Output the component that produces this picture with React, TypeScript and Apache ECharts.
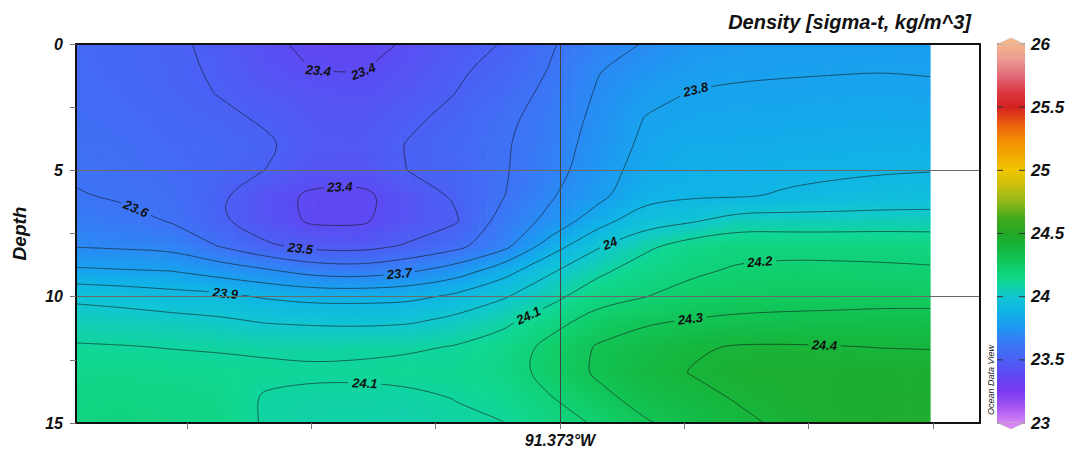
import React, { useEffect, useRef } from "react";
import * as echarts from "echarts";

const FONT = "'Liberation Sans', Arial, Helvetica, sans-serif";

// ---------------- data ----------------
const lonMin = -91.376894;
const lonMax = -91.369621;
const lonNodes = [
  -91.376894, -91.376512, -91.376131, -91.375749, -91.375367, -91.374986, -91.374604,
  -91.374222, -91.373841, -91.373459, -91.373077, -91.372696, -91.372314, -91.371932,
  -91.371551, -91.371169, -91.370787, -91.370406, -91.370024,
];
const depthNodes = [0, 1, 2, 3, 4, 5, 6, 7, 8, 9, 10, 11, 12, 13, 14, 15];
// one density profile (sigma-t) per longitude node, depth 0..15 m
const profiles = [
  [23.55, 23.555, 23.56, 23.57, 23.58, 23.59, 23.605, 23.65, 23.695, 23.82, 23.98, 24.05, 24.11, 24.14, 24.16, 24.17],
  [23.535, 23.54, 23.548, 23.558, 23.568, 23.578, 23.59, 23.625, 23.685, 23.81, 23.965, 24.045, 24.105, 24.145, 24.165, 24.175],
  [23.515, 23.517, 23.523, 23.535, 23.548, 23.56, 23.575, 23.595, 23.675, 23.802, 23.94, 24.035, 24.097, 24.135, 24.155, 24.165],
  [23.482, 23.49, 23.498, 23.522, 23.535, 23.53, 23.512, 23.512, 23.598, 23.76, 23.93, 24.02, 24.093, 24.125, 24.145, 24.155],
  [23.42, 23.435, 23.465, 23.49, 23.515, 23.499, 23.43, 23.44, 23.515, 23.72, 23.89, 23.995, 24.085, 24.12, 24.09, 24.09],
  [23.378, 23.398, 23.44, 23.455, 23.465, 23.44, 23.383, 23.385, 23.47, 23.665, 23.87, 23.985, 24.085, 24.11, 24.085, 24.08],
  [23.37, 23.395, 23.43, 23.45, 23.46, 23.44, 23.375, 23.385, 23.465, 23.65, 23.87, 23.98, 24.09, 24.11, 24.085, 24.08],
  [23.41, 23.435, 23.46, 23.485, 23.505, 23.502, 23.44, 23.445, 23.51, 23.69, 23.875, 23.99, 24.09, 24.125, 24.08, 24.075],
  [23.475, 23.488, 23.501, 23.525, 23.54, 23.53, 23.512, 23.488, 23.57, 23.75, 23.92, 24.03, 24.105, 24.12, 24.102, 24.09],
  [23.503, 23.525, 23.555, 23.58, 23.59, 23.59, 23.595, 23.635, 23.665, 23.86, 23.99, 24.08, 24.14, 24.15, 24.125, 24.098],
  [23.59, 23.605, 23.625, 23.64, 23.65, 23.66, 23.69, 23.725, 23.85, 23.99, 24.07, 24.16, 24.235, 24.245, 24.195, 24.165],
  [23.665, 23.695, 23.71, 23.725, 23.74, 23.755, 23.77, 23.86, 23.99, 24.08, 24.16, 24.25, 24.31, 24.315, 24.27, 24.21],
  [23.705, 23.74, 23.78, 23.805, 23.82, 23.84, 23.87, 23.96, 24.08, 24.15, 24.198, 24.29, 24.35, 24.37, 24.34, 24.29],
  [23.755, 23.78, 23.805, 23.825, 23.845, 23.865, 23.89, 23.99, 24.15, 24.185, 24.24, 24.31, 24.39, 24.405, 24.37, 24.34],
  [23.77, 23.79, 23.81, 23.83, 23.845, 23.86, 23.89, 24.05, 24.17, 24.215, 24.26, 24.32, 24.41, 24.44, 24.41, 24.38],
  [23.775, 23.793, 23.813, 23.833, 23.853, 23.88, 23.91, 24.045, 24.17, 24.225, 24.265, 24.325, 24.41, 24.445, 24.44, 24.42],
  [23.78, 23.795, 23.817, 23.837, 23.857, 23.885, 23.925, 24.045, 24.17, 24.222, 24.265, 24.33, 24.405, 24.45, 24.455, 24.45],
  [23.785, 23.797, 23.822, 23.842, 23.862, 23.893, 23.935, 24.05, 24.17, 24.217, 24.268, 24.337, 24.398, 24.45, 24.46, 24.46],
  [23.787, 23.795, 23.812, 23.84, 23.865, 23.897, 23.94, 24.05, 24.165, 24.212, 24.265, 24.34, 24.395, 24.45, 24.46, 24.46],
];
const contourLevels = [23.4, 23.5, 23.6, 23.7, 23.8, 23.9, 24.0, 24.1, 24.2, 24.3, 24.4];
const xTickValues = [-91.376, -91.375, -91.374, -91.373, -91.372, -91.371, -91.37];
const xLabelValues = [-91.373];
const colorMin = 23;
const colorMax = 26;
const colorbarTicks = [23, 23.5, 24, 24.5, 25, 25.5, 26];
// ODV-like palette, evenly spaced from 23 to 26
const colorScale = [
  "#d884f4", "#a356f2", "#7a3af0", "#6046f2", "#4a60f4", "#3a78f6", "#1f96f2", "#10b2e8",
  "#10c6d2", "#10d890", "#10cc64", "#14b840", "#22a826", "#44aa1e", "#92b818", "#c8c00e",
  "#f0c600", "#f2a800", "#f28a04", "#ea5a10", "#d42020", "#dc3a44", "#e26a78", "#ec9a92",
  "#f6b48a",
];
const contourLabels = [
  { level: 23.4, text: "23.4", lon: -91.374947, depth: 1.1 },
  { level: 23.4, text: "23.4", lon: -91.374585, depth: 1.1 },
  { level: 23.8, text: "23.8", lon: -91.371914, depth: 1.7 },
  { level: 23.4, text: "23.4", lon: -91.37477, depth: 5.86 },
  { level: 23.6, text: "23.6", lon: -91.376419, depth: 6.57 },
  { level: 23.5, text: "23.5", lon: -91.375092, depth: 8.23 },
  { level: 24.0, text: "24", lon: -91.372598, depth: 7.87 },
  { level: 24.2, text: "24.2", lon: -91.371391, depth: 8.59 },
  { level: 23.7, text: "23.7", lon: -91.374287, depth: 9.14 },
  { level: 23.9, text: "23.9", lon: -91.375695, depth: 9.93 },
  { level: 24.1, text: "24.1", lon: -91.373266, depth: 10.64 },
  { level: 24.3, text: "24.3", lon: -91.371954, depth: 10.84 },
  { level: 24.4, text: "24.4", lon: -91.370868, depth: 11.79 },
  { level: 24.1, text: "24.1", lon: -91.374569, depth: 13.41 },
];

// ---------------- helpers ----------------
function hexToRgb(h: string) {
  const n = parseInt(h.slice(1), 16);
  return [(n >> 16) & 255, (n >> 8) & 255, n & 255];
}
const scaleRgb = colorScale.map(hexToRgb);
const colorStep = (colorMax - colorMin) / (colorScale.length - 1);
function colorAt(v: number) {
  const t = Math.max(0, Math.min(1, (v - colorMin) / (colorMax - colorMin))) * (scaleRgb.length - 1);
  const i = Math.min(scaleRgb.length - 2, Math.floor(t));
  const f = t - i;
  const a = scaleRgb[i], b = scaleRgb[i + 1];
  const c = [0, 1, 2].map((k) => Math.round(a[k] + (b[k] - a[k]) * f));
  return `rgb(${c[0]},${c[1]},${c[2]})`;
}

type Pt = [number, number];
type Line = { level: number; pts: Pt[]; closed: boolean };

function buildContours(): Line[] {
  const nx = lonNodes.length, ny = depthNodes.length;
  const V = (i: number, j: number) => profiles[i][j];
  const out: Line[] = [];
  for (const L of contourLevels) {
    const segs: [string, string][] = [];
    const pos: Record<string, Pt> = {};
    const ep = (key: string, i1: number, j1: number, i2: number, j2: number) => {
      if (!pos[key]) {
        const v1 = V(i1, j1), v2 = V(i2, j2);
        const t = (L - v1) / (v2 - v1);
        pos[key] = [
          lonNodes[i1] + t * (lonNodes[i2] - lonNodes[i1]),
          depthNodes[j1] + t * (depthNodes[j2] - depthNodes[j1]),
        ];
      }
      return key;
    };
    for (let i = 0; i < nx - 1; i++) {
      for (let j = 0; j < ny - 1; j++) {
        const a = V(i, j), b = V(i + 1, j), c = V(i + 1, j + 1), d = V(i, j + 1);
        const idx = (a >= L ? 8 : 0) | (b >= L ? 4 : 0) | (c >= L ? 2 : 0) | (d >= L ? 1 : 0);
        if (idx === 0 || idx === 15) continue;
        const T = () => ep(`h${i}_${j}`, i, j, i + 1, j);
        const B = () => ep(`h${i}_${j + 1}`, i, j + 1, i + 1, j + 1);
        const Lf = () => ep(`v${i}_${j}`, i, j, i, j + 1);
        const R = () => ep(`v${i + 1}_${j}`, i + 1, j, i + 1, j + 1);
        const m = (a + b + c + d) / 4;
        switch (idx) {
          case 1: case 14: segs.push([Lf(), B()]); break;
          case 2: case 13: segs.push([B(), R()]); break;
          case 3: case 12: segs.push([Lf(), R()]); break;
          case 4: case 11: segs.push([T(), R()]); break;
          case 6: case 9: segs.push([T(), B()]); break;
          case 7: case 8: segs.push([Lf(), T()]); break;
          case 5:
            if (m >= L) { segs.push([Lf(), T()]); segs.push([B(), R()]); }
            else { segs.push([T(), R()]); segs.push([Lf(), B()]); }
            break;
          case 10:
            if (m >= L) { segs.push([T(), R()]); segs.push([Lf(), B()]); }
            else { segs.push([Lf(), T()]); segs.push([B(), R()]); }
            break;
        }
      }
    }
    const adj: Record<string, number[]> = {};
    segs.forEach((s, k) => {
      (adj[s[0]] = adj[s[0]] || []).push(k);
      (adj[s[1]] = adj[s[1]] || []).push(k);
    });
    const used = segs.map(() => false);
    const chain = (k0: number, startKey: string) => {
      const keys = [startKey];
      let k = k0, cur = startKey;
      while (k !== -1 && !used[k]) {
        used[k] = true;
        const s = segs[k];
        const nxt = s[0] === cur ? s[1] : s[0];
        keys.push(nxt);
        cur = nxt;
        const cand = adj[cur].filter((q) => !used[q]);
        k = cand.length ? cand[0] : -1;
      }
      return keys;
    };
    for (let k = 0; k < segs.length; k++) {
      if (used[k]) continue;
      const s = segs[k];
      let keys: string[] | null = null;
      if (adj[s[0]].length === 1) keys = chain(k, s[0]);
      else if (adj[s[1]].length === 1) keys = chain(k, s[1]);
      if (keys) out.push({ level: L, pts: keys.map((q) => pos[q]), closed: false });
    }
    for (let k = 0; k < segs.length; k++) {
      if (used[k]) continue;
      const keys = chain(k, segs[k][0]);
      out.push({ level: L, pts: keys.map((q) => pos[q]), closed: true });
    }
  }
  return out;
}
const contourLines = buildContours();

function chaikin(pts: number[][], closed: boolean, iter: number) {
  let p = pts;
  for (let it = 0; it < iter; it++) {
    const q: number[][] = [];
    if (closed) {
      const m = p.length - 1;
      for (let i = 0; i < m; i++) {
        const a = p[i], b = p[(i + 1) % m];
        q.push([a[0] * 0.75 + b[0] * 0.25, a[1] * 0.75 + b[1] * 0.25]);
        q.push([a[0] * 0.25 + b[0] * 0.75, a[1] * 0.25 + b[1] * 0.75]);
      }
      q.push(q[0]);
    } else {
      q.push(p[0]);
      for (let i = 0; i < p.length - 1; i++) {
        const a = p[i], b = p[i + 1];
        q.push([a[0] * 0.75 + b[0] * 0.25, a[1] * 0.75 + b[1] * 0.25]);
        q.push([a[0] * 0.25 + b[0] * 0.75, a[1] * 0.25 + b[1] * 0.75]);
      }
      q.push(p[p.length - 1]);
    }
    p = q;
  }
  return p;
}
function densify(pts: number[][], step: number) {
  const out: number[][] = [pts[0]];
  for (let i = 1; i < pts.length; i++) {
    const a = pts[i - 1], b = pts[i];
    const len = Math.hypot(b[0] - a[0], b[1] - a[1]);
    const n = Math.max(1, Math.ceil(len / step));
    for (let k = 1; k <= n; k++) out.push([a[0] + ((b[0] - a[0]) * k) / n, a[1] + ((b[1] - a[1]) * k) / n]);
  }
  return out;
}
function textWidth(t: string) {
  let w = 0;
  for (const ch of t) w += ch === "." ? 3.6 : 7.2;
  return w;
}

type Geom = {
  lines: { level: number; px: number[][] }[];
  labels: { x: number; y: number; rot: number; hw: number; hh: number; level: number; text: string }[];
};
let geomKey = "";
let geom: Geom | null = null;
function getGeom(api: any): Geom {
  const p0 = api.coord([lonMin, 0]);
  const p1 = api.coord([lonMax, 15]);
  const key = p0.join(",") + "|" + p1.join(",");
  if (geom && key === geomKey) return geom;
  const lines = contourLines.map((ln) => {
    const raw = ln.pts.map((p) => api.coord(p));
    const sm = chaikin(raw, ln.closed, 3);
    return { level: ln.level, px: densify(sm, 1.2) };
  });
  const labels = contourLabels.map((lb) => {
    const a = api.coord([lb.lon, lb.depth]);
    let best: { px: number[][]; idx: number } | null = null;
    let bd = 1e12;
    lines.forEach((l) => {
      if (Math.abs(l.level - lb.level) > 1e-6) return;
      l.px.forEach((p, idx) => {
        const d = (p[0] - a[0]) ** 2 + (p[1] - a[1]) ** 2;
        if (d < bd) { bd = d; best = { px: l.px, idx }; }
      });
    });
    let x = a[0], y = a[1], rot = 0;
    if (best && bd < 35 * 35) {
      const b = best as { px: number[][]; idx: number };
      const i0 = Math.max(0, b.idx - 8), i1 = Math.min(b.px.length - 1, b.idx + 8);
      x = b.px[b.idx][0];
      y = b.px[b.idx][1];
      const dx = b.px[i1][0] - b.px[i0][0], dy = b.px[i1][1] - b.px[i0][1];
      rot = -Math.atan2(dy, dx);
      if (rot > Math.PI / 2) rot -= Math.PI;
      if (rot < -Math.PI / 2) rot += Math.PI;
    }
    return { x, y, rot, hw: textWidth(lb.text) / 2 + 3, hh: 7, level: lb.level, text: lb.text };
  });
  geom = { lines, labels };
  geomKey = key;
  return geom;
}

// ---------------- series render ----------------
const NSTRIP = 6;
function renderField(params: any, api: any) {
  const i = api.value(3), j = api.value(4);
  const p0 = api.coord([lonNodes[i], depthNodes[j]]);
  const p1 = api.coord([lonNodes[i + 1], depthNodes[j + 1]]);
  const a = profiles[i][j], b = profiles[i + 1][j], c = profiles[i + 1][j + 1], d = profiles[i][j + 1];
  const children: any[] = [];
  for (let s = 0; s < NSTRIP; s++) {
    const t = (s + 0.5) / NSTRIP;
    const vt = a + (b - a) * t, vb = d + (c - d) * t;
    const x0 = p0[0] + ((p1[0] - p0[0]) * s) / NSTRIP;
    const x1 = p0[0] + ((p1[0] - p0[0]) * (s + 1)) / NSTRIP;
    children.push({
      type: "rect",
      silent: true,
      shape: { x: x0, y: p0[1], width: x1 - x0 + 0.7, height: p1[1] - p0[1] + 0.7 },
      style: {
        fill: new echarts.graphic.LinearGradient(
          0, 0, 0, 1,
          [0, 0.25, 0.5, 0.75, 1].map((u) => ({ offset: u, color: colorAt(vt + (vb - vt) * u) }))
        ),
      },
    });
  }
  return { type: "group", children };
}

function renderContour(params: any, api: any) {
  const g = getGeom(api);
  const line = g.lines[params.dataIndex];
  const labs = g.labels.filter((l) => Math.abs(l.level - line.level) < 1e-6);
  const pieces: number[][][] = [];
  let cur: number[][] = [];
  for (const p of line.px) {
    const inside = labs.some((lb) => {
      const dx = p[0] - lb.x, dy = p[1] - lb.y;
      const c = Math.cos(lb.rot), s = Math.sin(lb.rot);
      const u = dx * c - dy * s;
      const v = dx * s + dy * c;
      return Math.abs(u) <= lb.hw && Math.abs(v) <= lb.hh;
    });
    if (inside) {
      if (cur.length > 1) pieces.push(cur);
      cur = [];
    } else cur.push(p);
  }
  if (cur.length > 1) pieces.push(cur);
  return {
    type: "group",
    children: pieces.map((pts) => ({
      type: "polyline",
      silent: true,
      shape: { points: pts },
      style: { stroke: "rgba(20,20,20,0.85)", lineWidth: 0.7, fill: null },
    })),
  };
}

function renderLabel(params: any, api: any) {
  const g = getGeom(api);
  const lb = g.labels[params.dataIndex];
  return {
    type: "text",
    silent: true,
    x: lb.x,
    y: lb.y,
    rotation: lb.rot,
    style: {
      text: lb.text,
      fill: "#111",
      fontFamily: FONT,
      fontSize: 13,
      fontWeight: "bold",
      fontStyle: "italic",
      align: "center",
      verticalAlign: "middle",
    },
  };
}

// colour bar: one gradient slice per palette interval, drawn on the colour-bar axis
function renderColorbar(params: any, api: any) {
  const k = api.value(2);
  const lo = colorMin + k * colorStep;
  const hi = colorMin + (k + 1) * colorStep;
  const tl = api.coord([0, hi]);
  const br = api.coord([1, lo]);
  return {
    type: "rect",
    silent: true,
    shape: { x: tl[0], y: tl[1] - 0.4, width: br[0] - tl[0], height: br[1] - tl[1] + 0.8 },
    style: {
      fill: new echarts.graphic.LinearGradient(0, 0, 0, 1, [
        { offset: 0, color: colorScale[k + 1] },
        { offset: 1, color: colorScale[k] },
      ]),
    },
  };
}

function renderColorbarTick(params: any, api: any) {
  const v = api.value(1);
  const l = api.coord([0, v]);
  const r = api.coord([1, v]);
  return {
    type: "group",
    children: [
      { type: "line", silent: true, shape: { x1: l[0], y1: l[1], x2: l[0] + 6, y2: l[1] }, style: { stroke: "#333", lineWidth: 1 } },
      { type: "line", silent: true, shape: { x1: r[0] - 6, y1: r[1], x2: r[0], y2: r[1] }, style: { stroke: "#333", lineWidth: 1 } },
    ],
  };
}

// ---------------- option ----------------
const fieldData: number[][] = [];
for (let i = 0; i < lonNodes.length - 1; i++) {
  for (let j = 0; j < depthNodes.length - 1; j++) {
    fieldData.push([
      (lonNodes[i] + lonNodes[i + 1]) / 2,
      (depthNodes[j] + depthNodes[j + 1]) / 2,
      (profiles[i][j] + profiles[i + 1][j] + profiles[i][j + 1] + profiles[i + 1][j + 1]) / 4,
      i,
      j,
    ]);
  }
}
const colorbarData = colorScale.slice(0, -1).map((_, k) => [0.5, colorMin + (k + 0.5) * colorStep, k]);

const labelFont = { fontFamily: FONT, fontWeight: "bold" as const, fontStyle: "italic" as const, color: "#111" };

const option: any = {
  animation: false,
  backgroundColor: "#fff",
  title: {
    text: "Density [sigma-t, kg/m^3]",
    right: 94,
    top: 7,
    textStyle: { ...labelFont, fontSize: 20 },
  },
  grid: [
    { left: 76, top: 44, width: 904, height: 379 },
    { left: 997, top: 44, width: 28, height: 379 },
  ],
  xAxis: [
    {
      gridIndex: 0,
      type: "value",
      min: lonMin,
      max: lonMax,
      position: "bottom",
      z: 10,
      axisLine: { show: true, onZero: false, lineStyle: { color: "#111", width: 2 } },
      axisTick: { show: true, customValues: xTickValues, length: 6, lineStyle: { color: "#777" } },
      axisLabel: {
        customValues: xLabelValues,
        formatter: (v: number) => `${Math.abs(v).toFixed(3)}°W`,
        ...labelFont,
        fontSize: 16,
        margin: 9,
      },
      splitLine: { show: false },
    },
    {
      gridIndex: 0,
      type: "value",
      min: lonMin,
      max: lonMax,
      position: "top",
      z: 10,
      axisLine: { show: true, onZero: false, lineStyle: { color: "#111", width: 2 } },
      axisTick: { show: false, customValues: xLabelValues },
      axisLabel: { show: false, customValues: xLabelValues },
      splitLine: { show: true, lineStyle: { color: "#444", width: 1 } },
    },
    { gridIndex: 1, type: "value", min: 0, max: 1, show: false },
  ],
  yAxis: [
    {
      gridIndex: 0,
      type: "value",
      inverse: true,
      min: 0,
      max: 15,
      interval: 5,
      position: "left",
      z: 10,
      name: "Depth",
      nameLocation: "middle",
      nameGap: 47,
      nameRotate: 90,
      nameTextStyle: { ...labelFont, fontSize: 19 },
      axisLine: { show: true, onZero: false, lineStyle: { color: "#111", width: 2 } },
      axisTick: { show: true, length: 6, lineStyle: { color: "#777" } },
      minorTick: { show: true, splitNumber: 2, length: 6, lineStyle: { color: "#777" } },
      axisLabel: { ...labelFont, fontSize: 16, margin: 13 },
      splitLine: { show: true, lineStyle: { color: "#6a6a6a", width: 1 } },
    },
    {
      gridIndex: 0,
      type: "value",
      inverse: true,
      min: 0,
      max: 15,
      interval: 5,
      position: "right",
      z: 10,
      axisLine: { show: true, onZero: false, lineStyle: { color: "#111", width: 2 } },
      axisTick: { show: false },
      axisLabel: { show: false },
      splitLine: { show: false },
    },
    {
      gridIndex: 1,
      type: "value",
      min: colorMin,
      max: colorMax,
      interval: 0.5,
      position: "right",
      z: 20,
      axisLine: { show: false },
      axisTick: { show: false },
      axisLabel: { ...labelFont, fontSize: 17, margin: 6 },
      splitLine: { show: false },
    },
  ],
  graphic: [
    {
      type: "polygon",
      z: 100,
      shape: { points: [[997, 44.5], [1011, 38], [1025, 44.5]] },
      style: { fill: "#f6b48a", stroke: "#bbb", lineWidth: 0.6 },
    },
    {
      type: "polygon",
      z: 100,
      shape: { points: [[997, 422.5], [1011, 429], [1025, 422.5]] },
      style: { fill: "#d884f4", stroke: "#bbb", lineWidth: 0.6 },
    },
    {
      type: "text",
      z: 100,
      x: 991,
      y: 380,
      rotation: Math.PI / 2,
      style: {
        text: "Ocean Data View",
        fill: "#222",
        fontFamily: FONT,
        fontSize: 9,
        fontStyle: "italic",
        align: "center",
        verticalAlign: "middle",
      },
    },
  ],
  series: [
    {
      type: "custom",
      name: "density",
      xAxisIndex: 0,
      yAxisIndex: 0,
      clip: true,
      z: 2,
      silent: true,
      renderItem: renderField,
      encode: { x: 0, y: 1 },
      data: fieldData,
    },
    {
      type: "custom",
      name: "contours",
      xAxisIndex: 0,
      yAxisIndex: 0,
      clip: true,
      z: 3,
      silent: true,
      renderItem: renderContour,
      data: contourLines.map((_, k) => [lonMin, 0, k]),
      encode: { x: 0, y: 1 },
    },
    {
      type: "custom",
      name: "labels",
      xAxisIndex: 0,
      yAxisIndex: 0,
      clip: true,
      z: 4,
      silent: true,
      renderItem: renderLabel,
      data: contourLabels.map((l, k) => [l.lon, l.depth, k]),
      encode: { x: 0, y: 1 },
    },
    {
      type: "custom",
      name: "colorbar",
      xAxisIndex: 2,
      yAxisIndex: 2,
      z: 2,
      silent: true,
      renderItem: renderColorbar,
      data: colorbarData,
      encode: { x: 0, y: 1 },
    },
    {
      type: "custom",
      name: "colorbar ticks",
      xAxisIndex: 2,
      yAxisIndex: 2,
      z: 5,
      silent: true,
      renderItem: renderColorbarTick,
      data: colorbarTicks.map((v) => [0.5, v]),
      encode: { x: 0, y: 1 },
    },
  ],
};

export default function App() {
  const ref = useRef<HTMLDivElement>(null);
  useEffect(() => {
    if (!ref.current) return;
    const chart = echarts.init(ref.current, null, { renderer: "svg" });
    chart.setOption(option);
    return () => chart.dispose();
  }, []);
  return (
    <div
      ref={ref}
      style={{ position: "absolute", left: 0, top: 0, width: 1070, height: 454, background: "#fff" }}
    />
  );
}
